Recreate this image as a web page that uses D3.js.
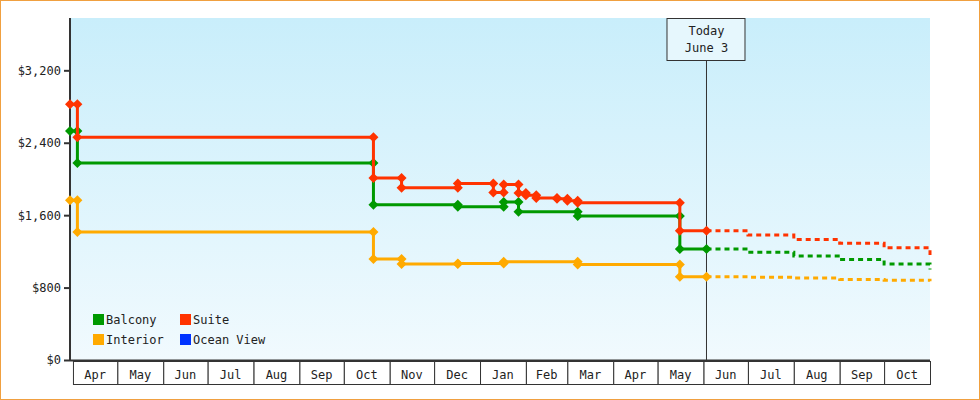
<!DOCTYPE html><html><head><meta charset="utf-8">
<script src="https://cdn.jsdelivr.net/npm/d3@7"></script>
<style>body{margin:0;background:#fff}text{font-family:"DejaVu Sans Mono",monospace;font-size:12px;fill:#222}</style></head><body>
<svg id="c" width="980" height="400"></svg>
<script>
const balcony=[["2022-03-30",2530],["2022-04-04",2175],["2022-10-21",1715],["2022-12-17",1693],["2023-01-17",1745],["2023-01-27",1637],["2023-03-08",1590],["2023-05-16",1225],["2023-06-03",1225]];
const suite=[["2022-03-30",2825],["2022-04-04",2460],["2022-10-21",2010],["2022-11-09",1902],["2022-12-17",1950],["2023-01-10",1850],["2023-01-17",1940],["2023-01-27",1846],["2023-02-01",1820],["2023-02-08",1790],["2023-02-22",1780],["2023-03-01",1760],["2023-03-08",1736],["2023-05-16",1427],["2023-06-03",1427]];
const interior=[["2022-03-30",1766],["2022-04-04",1413],["2022-10-21",1115],["2022-11-09",1060],["2022-12-17",1065],["2023-01-17",1085],["2023-03-08",1054],["2023-05-16",920],["2023-06-03",920]];
const fcDates=["2023-06-03","2023-07-01","2023-08-01","2023-09-01","2023-10-01","2023-11-01"];
const fcSuite=[1427,1380,1330,1290,1240,1160];
const fcBalcony=[1225,1190,1150,1110,1060,1000];
const fcInterior=[920,915,905,890,880,870];
const yTicks=[0,800,1600,2400,3200];
const colors={Balcony:"#009900",Suite:"#ff3300",Interior:"#ffaa00","Ocean View":"#0033ff"};
const P=d3.timeParse("%Y-%m-%d");
const svg=d3.select("#c");
const L=70,R=930,T=18,B=360;
const x=d3.scaleTime().domain([P("2022-03-30"),P("2023-11-01")]).range([L,R]);
const y=d3.scaleLinear().domain([0,3778]).range([B,T]);
svg.append("rect").attr("x",0.5).attr("y",0.5).attr("width",979).attr("height",399).attr("fill","#fff").attr("stroke","#f0a040");
const g=svg.append("defs").append("linearGradient").attr("id","bg").attr("x1",0).attr("x2",0).attr("y1",0).attr("y2",1);
g.append("stop").attr("offset",0).attr("stop-color","#c9eefb");g.append("stop").attr("offset",1).attr("stop-color","#f1fafe");
svg.append("rect").attr("x",L).attr("y",T).attr("width",R-L).attr("height",B-T).attr("fill","url(#bg)");
// y axis
svg.append("g").attr("transform",`translate(${L},0)`).call(d3.axisLeft(y).tickValues(yTicks).tickSize(6).tickFormat(d=>"$"+d3.format(",")(d)))
 .call(a=>{a.select(".domain").attr("stroke","#333").attr("stroke-width",2).attr("d",`M0,${T}V${B}`);a.selectAll("line").attr("stroke","#333").attr("stroke-width",2);a.selectAll("text").attr("font-size",12).attr("font-family","DejaVu Sans Mono").attr("fill","#222");});
// month boxes
const months=d3.timeMonth.range(P("2022-04-01"),P("2023-11-01"));
const fmt=d3.timeFormat("%b");
svg.append("line").attr("x1",L).attr("x2",R).attr("y1",B+0.5).attr("y2",B+0.5).attr("stroke","#333").attr("stroke-width",2);
const mg=svg.append("g");
months.forEach(m=>{const x0=x(m),x1=x(d3.timeMonth.offset(m,1));
 mg.append("rect").attr("x",x0+0.5).attr("y",B+1.5).attr("width",x1-x0).attr("height",23).attr("fill","#fff").attr("stroke","#333");
 mg.append("text").attr("x",(x0+x1)/2).attr("y",B+19).attr("text-anchor","middle").text(fmt(m));});
// today
const td=x(P("2023-06-03"));
svg.append("line").attr("x1",td).attr("x2",td).attr("y1",T).attr("y2",B).attr("stroke","#333");
svg.append("rect").attr("x",td-39.5).attr("y",T+0.5).attr("width",78).attr("height",42).attr("fill","#e6f7fd").attr("stroke","#333");
svg.append("text").attr("x",td).attr("y",T+17).attr("text-anchor","middle").text("Today");
svg.append("text").attr("x",td).attr("y",T+34).attr("text-anchor","middle").text("June 3");
// series
const line=d3.line().x(d=>x(P(d[0]))).y(d=>y(d[1])).curve(d3.curveStepAfter);
function diamond(cx,cy,c){svg.append("path").attr("d",`M${cx},${cy-5}L${cx+5},${cy}L${cx},${cy+5}L${cx-5},${cy}Z`).attr("fill",c);}
[["Balcony",balcony,fcBalcony],["Interior",interior,fcInterior],["Suite",suite,fcSuite]].forEach(([n,d,fc])=>{
 const c=colors[n];
 svg.append("path").attr("d",line(d)).attr("fill","none").attr("stroke",c).attr("stroke-width",3);
 const f=fcDates.map((t,i)=>[t,fc[i]]);
 svg.append("path").attr("d",line(f)).attr("fill","none").attr("stroke",c).attr("stroke-width",3).attr("stroke-dasharray","5,4");
 d.forEach((p,i)=>{const cx=x(P(p[0]));diamond(cx,y(p[1]),c);if(i>0&&i<d.length-1)diamond(cx,y(d[i-1][1]),c);});
});
// legend
[["Balcony",95,320],["Suite",182,320],["Interior",95,340],["Ocean View",182,340]].forEach(([n,lx,ly])=>{
 svg.append("rect").attr("x",lx-2).attr("y",ly-6).attr("width",11).attr("height",11).attr("fill",colors[n]);
 svg.append("text").attr("x",lx+11).attr("y",ly+4).text(n);});
</script></body></html>
